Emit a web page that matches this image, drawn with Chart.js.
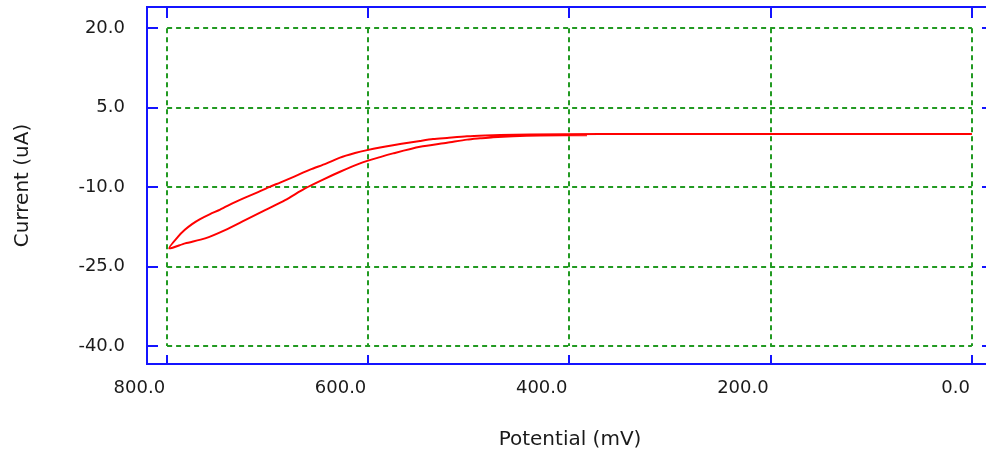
<!DOCTYPE html>
<html>
<head>
<meta charset="utf-8">
<script src="https://cdn.jsdelivr.net/npm/chart.js@4.4.1/dist/chart.umd.min.js"></script>
<style>
  html, body { margin: 0; padding: 0; background: #fff; overflow: hidden; }
  #contenedor { width: 1000px; height: 457px; }
</style>
</head>
<body>
<div id="contenedor"><canvas id="graficoCV"></canvas></div>
<script>
// barrido de ida: 0 -> vertice (mV / uA)
const potencialIda = [0, 369.7, 439.3, 469.1, 483.9, 501.9, 521.7, 535.7, 548.6, 558.5, 575.4, 588.3, 601.2, 613.2, 628.1, 642.0, 657.9, 674.8, 687.7, 697.6, 709.6, 722.5, 732.4, 747.3, 757.3, 767.2, 775.2, 782.1, 789.1, 798.0]
const corrienteIda = [0, 0, -0.06, -0.15, -0.25, -0.42, -0.72, -0.94, -1.28, -1.57, -2.08, -2.51, -3.02, -3.58, -4.43, -5.57, -6.70, -8.11, -9.15, -9.91, -10.94, -11.98, -12.83, -14.25, -15.09, -16.04, -16.98, -18.02, -19.35, -21.57]

// barrido de vuelta: vertice -> 383 mV
const potencialVuelta = [782.1, 762.2, 742.4, 722.5, 702.6, 682.7, 662.9, 645.0, 628.1, 608.2, 588.3, 575.4, 548.6, 521.7, 501.9, 488.9, 476.0, 456.1, 429.3, 382.6]
const corrienteVuelta = [-20.62, -19.68, -18.11, -16.23, -14.34, -12.45, -10.25, -8.58, -7.11, -5.53, -4.34, -3.64, -2.40, -1.64, -1.04, -0.79, -0.57, -0.38, -0.26, -0.21]

const etiquetasX = [800, 600, 400, 200, 0]
const etiquetasY = [20, 5, -10, -25, -40]

const puntos = []
potencialIda.forEach((p, i) => puntos.push({ x: p, y: corrienteIda[i] }))
potencialVuelta.forEach((p, i) => puntos.push({ x: p, y: corrienteVuelta[i] }))

Chart.defaults.font.family = "'DejaVu Sans', sans-serif"

// rejilla punteada verde + marco azul con marcas hacia dentro
const marcoCV = {
  id: 'marcoCV',
  beforeDatasetsDraw(chart) {
    const { ctx, scales: { x, y } } = chart
    const x0 = x.getPixelForValue(Math.max(...etiquetasX))
    const x1 = x.getPixelForValue(Math.min(...etiquetasX))
    const y0 = y.getPixelForValue(Math.max(...etiquetasY))
    const y1 = y.getPixelForValue(Math.min(...etiquetasY))
    ctx.save()
    ctx.strokeStyle = '#229a22'
    ctx.lineWidth = 2
    ctx.setLineDash([5, 4])
    etiquetasY.forEach((v) => {
      const py = Math.round(y.getPixelForValue(v))
      ctx.beginPath()
      ctx.moveTo(x0, py)
      ctx.lineTo(x1, py)
      ctx.stroke()
    })
    etiquetasX.forEach((v) => {
      const px = Math.round(x.getPixelForValue(v))
      ctx.beginPath()
      ctx.moveTo(px, y0)
      ctx.lineTo(px, y1)
      ctx.stroke()
    })
    ctx.restore()
  },
  afterDatasetsDraw(chart) {
    const { ctx, chartArea: a, scales: { x, y } } = chart
    ctx.save()
    ctx.strokeStyle = '#1414ff'
    ctx.lineWidth = 2
    ctx.strokeRect(a.left, a.top, a.right - a.left, a.bottom - a.top)
    ctx.beginPath()
    etiquetasY.forEach((v) => {
      const py = Math.round(y.getPixelForValue(v))
      ctx.moveTo(a.left, py)
      ctx.lineTo(a.left + 11, py)
      ctx.moveTo(a.right, py)
      ctx.lineTo(a.right - 11, py)
    })
    etiquetasX.forEach((v) => {
      const px = Math.round(x.getPixelForValue(v))
      ctx.moveTo(px, a.top)
      ctx.lineTo(px, a.top + 11)
      ctx.moveTo(px, a.bottom)
      ctx.lineTo(px, a.bottom - 9)
    })
    ctx.stroke()
    ctx.restore()
  }
}

const lienzo = document.getElementById("graficoCV")

new Chart(lienzo, {
  type: "scatter",
  data: {
    datasets: [
      {
        label: "Current (uA)",
        data: puntos,
        showLine: true,
        borderColor: "#ff0000",
        borderWidth: 2,
        pointRadius: 0,
        tension: 0.25,
      },
    ],
  },
  options: {
    responsive: true,
    maintainAspectRatio: false,
    animation: false,
    layout: { padding: { top: 7, right: 7, bottom: 0, left: 0 } },
    plugins: {
      legend: { display: false },
      tooltip: { enabled: false },
    },
    scales: {
      x: {
        type: "linear",
        reverse: true,
        min: -21,
        max: 820,
        afterBuildTicks: (eje) => { eje.ticks = etiquetasX.map((v) => ({ value: v })) },
        afterFit: (eje) => { eje.height = 93; eje.paddingLeft = 0; eje.paddingRight = 0 },
        grid: { display: false, drawTicks: false },
        border: { display: false },
        ticks: {
          autoSkip: false,
          maxRotation: 0,
          align: "end",
          padding: 14,
          labelOffset: -2,
          color: "#1a1a1a",
          font: { size: 18 },
          callback: (v) => Number(v).toFixed(1),
        },
        title: {
          display: true,
          text: "Potential (mV)",
          color: "#1a1a1a",
          font: { size: 20 },
          padding: { top: 0, bottom: 5 },
        },
      },
      y: {
        type: "linear",
        min: -43.4,
        max: 24,
        afterBuildTicks: (eje) => { eje.ticks = etiquetasY.map((v) => ({ value: v })) },
        afterFit: (eje) => { eje.width = 147; eje.paddingTop = 0; eje.paddingBottom = 0 },
        grid: { display: false, drawTicks: false },
        border: { display: false },
        ticks: {
          autoSkip: false,
          padding: 22,
          color: "#1a1a1a",
          font: { size: 18 },
          callback: (v) => Number(v).toFixed(1),
        },
        title: {
          display: true,
          text: "Current (uA)",
          color: "#1a1a1a",
          font: { size: 20 },
          padding: { top: 11, bottom: 0 },
        },
      },
    },
  },
  plugins: [marcoCV],
})
</script>
</body>
</html>
